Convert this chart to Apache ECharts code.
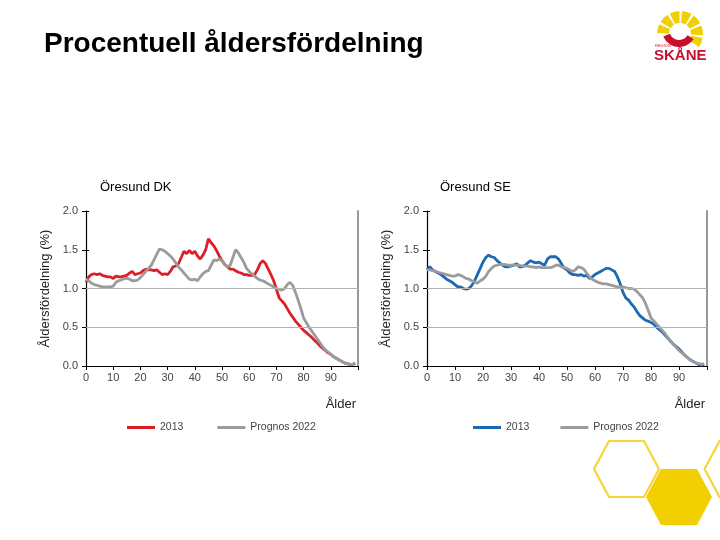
<!DOCTYPE html>
<html>
<head>
<meta charset="utf-8">
<script src="https://cdn.jsdelivr.net/npm/echarts@6/dist/echarts.min.js"></script>
<style>html,body{margin:0;padding:0;background:#fff}#c{width:720px;height:540px}</style>
</head>
<body>
<div id="c"></div>
<script>
const ages = Array.from({length: 100}, (_, i) => i);
const xTicks = [0, 10, 20, 30, 40, 50, 60, 70, 80, 90];
const yTicks = [0.0, 0.5, 1.0, 1.5, 2.0];
const gridLines = [0.5, 1.0];

const dk2013 = [1.08,1.15,1.18,1.19,1.18,1.19,1.17,1.16,1.15,1.15,
1.13,1.16,1.15,1.15,1.16,1.17,1.20,1.22,1.18,1.19,
1.20,1.23,1.25,1.24,1.24,1.23,1.24,1.21,1.18,1.19,
1.18,1.22,1.28,1.29,1.32,1.40,1.48,1.45,1.49,1.45,
1.48,1.42,1.38,1.43,1.50,1.64,1.59,1.55,1.49,1.42,
1.36,1.31,1.28,1.25,1.25,1.23,1.21,1.20,1.18,1.18,
1.17,1.17,1.18,1.24,1.32,1.36,1.32,1.25,1.18,1.10,
0.99,0.88,0.84,0.80,0.74,0.68,0.63,0.58,0.54,0.50,
0.46,0.43,0.40,0.37,0.33,0.30,0.26,0.23,0.20,0.17,
0.15,0.12,0.10,0.08,0.06,0.04,0.03,0.02,0.02,0.03];

const dk2022 = [1.12,1.10,1.07,1.05,1.04,1.03,1.02,1.02,1.02,1.02,
1.03,1.08,1.10,1.11,1.13,1.13,1.12,1.10,1.10,1.11,
1.14,1.18,1.22,1.26,1.30,1.37,1.44,1.51,1.50,1.48,
1.45,1.42,1.38,1.33,1.28,1.24,1.20,1.16,1.12,1.11,
1.12,1.10,1.15,1.19,1.22,1.23,1.30,1.37,1.36,1.38,
1.36,1.31,1.28,1.30,1.40,1.50,1.46,1.40,1.34,1.26,
1.22,1.19,1.16,1.13,1.11,1.10,1.08,1.06,1.04,1.02,
1.00,0.99,0.98,1.00,1.05,1.08,1.04,0.95,0.85,0.74,
0.62,0.56,0.50,0.45,0.40,0.35,0.30,0.25,0.21,0.18,
0.15,0.12,0.10,0.08,0.06,0.04,0.03,0.02,0.02,0.04];

const se2013 = [1.24,1.28,1.24,1.22,1.20,1.18,1.15,1.12,1.10,1.08,
1.05,1.02,1.02,1.00,0.99,1.00,1.04,1.10,1.18,1.26,
1.34,1.40,1.43,1.41,1.40,1.36,1.33,1.30,1.28,1.28,
1.29,1.30,1.32,1.28,1.28,1.30,1.33,1.36,1.34,1.33,
1.34,1.32,1.30,1.38,1.41,1.41,1.41,1.38,1.32,1.26,
1.24,1.20,1.18,1.18,1.17,1.18,1.16,1.17,1.13,1.15,
1.18,1.20,1.22,1.24,1.26,1.26,1.24,1.22,1.15,1.06,
0.95,0.88,0.85,0.80,0.76,0.70,0.65,0.62,0.59,0.58,
0.56,0.54,0.50,0.47,0.44,0.40,0.36,0.32,0.28,0.25,
0.22,0.18,0.14,0.11,0.08,0.06,0.04,0.02,0.01,0.02];

const se2022 = [1.24,1.24,1.23,1.22,1.21,1.20,1.19,1.18,1.17,1.16,
1.16,1.18,1.17,1.15,1.13,1.12,1.10,1.08,1.07,1.10,
1.12,1.16,1.22,1.26,1.29,1.30,1.31,1.31,1.31,1.30,
1.30,1.31,1.30,1.30,1.29,1.29,1.29,1.28,1.28,1.27,
1.28,1.27,1.27,1.27,1.27,1.28,1.30,1.30,1.28,1.27,
1.26,1.24,1.22,1.24,1.28,1.27,1.25,1.20,1.15,1.12,
1.10,1.08,1.07,1.06,1.06,1.05,1.04,1.03,1.02,1.02,
1.02,1.01,1.00,1.00,0.99,0.96,0.92,0.88,0.81,0.72,
0.62,0.58,0.54,0.50,0.46,0.42,0.37,0.32,0.28,0.24,
0.20,0.17,0.14,0.11,0.08,0.06,0.04,0.03,0.02,0.03];

const FONT = '"Liberation Sans", Arial, sans-serif';
const pairs = arr => ages.map((a, i) => [a, arr[i]]);

function xAx(gi) {
  return {
    type: 'value', gridIndex: gi, min: 0, max: 100, interval: 10,
    axisLine: {show: true, onZero: false, lineStyle: {color: '#000', width: 1.2}},
    axisTick: {show: true, length: 4, lineStyle: {color: '#000'}},
    axisLabel: {color: '#444', fontSize: 11, fontFamily: FONT, margin: 6,
      formatter: v => xTicks.indexOf(v) >= 0 ? String(v) : ''},
    splitLine: {show: false}
  };
}
function yAx(gi) {
  return {
    type: 'value', gridIndex: gi, min: 0, max: 2, interval: 0.5,
    name: 'Åldersfördelning (%)', nameLocation: 'middle', nameGap: 34,
    nameTextStyle: {color: '#222', fontSize: 13, fontFamily: FONT},
    axisLine: {show: true, lineStyle: {color: '#000', width: 1.2}},
    axisTick: {show: true, length: 4, lineStyle: {color: '#000'}},
    axisLabel: {color: '#444', fontSize: 11, fontFamily: FONT, margin: 8,
      formatter: v => yTicks.indexOf(v) >= 0 ? v.toFixed(1) : ''},
    splitLine: {show: false}
  };
}
function yAxInner(gi) {
  return {
    type: 'value', gridIndex: gi, min: 0, max: 2, interval: 0.5, position: 'left',
    axisLine: {show: false}, axisLabel: {show: false}, splitLine: {show: false},
    axisTick: {show: true, inside: true, length: 3, lineStyle: {color: '#000'}}
  };
}
function yAxRight(gi) {
  return {
    type: 'value', gridIndex: gi, min: 0, max: 2, position: 'right',
    axisLine: {show: true, lineStyle: {color: '#999', width: 2}},
    axisLabel: {show: false}, axisTick: {show: false}, splitLine: {show: false}
  };
}
const markGrid = {
  silent: true, symbol: 'none', label: {show: false},
  lineStyle: {color: '#b3b3b3', type: 'solid', width: 1},
  data: gridLines.map(v => ({yAxis: v}))
};
function lineSeries(name, arr, xi, yi, color, z, withGrid) {
  const s = {
    name, type: 'line', xAxisIndex: xi, yAxisIndex: yi, data: pairs(arr),
    showSymbol: false, symbol: 'none', smooth: false, z,
    lineStyle: {color, width: 2.8}, itemStyle: {color}, animation: false
  };
  if (withGrid) s.markLine = markGrid;
  return s;
}

const Y = '#F2CF00';
const hexPts = (cx, cy, hw, hh, inset) => [[cx - hw, cy], [cx - hw + inset, cy - hh], [cx + hw - inset, cy - hh], [cx + hw, cy], [cx + hw - inset, cy + hh], [cx - hw + inset, cy + hh]];

const logoRays = [];
const rayAngles = [[-3.10, -2.70], [-2.58, -2.15], [-2.03, -1.60], [-1.48, -1.05], [-0.93, -0.50], [-0.38, 0.05], [0.17, 0.60]];
rayAngles.forEach(a => logoRays.push({type: 'sector', shape: {cx: 680, cy: 34, r0: 11, r: 23, startAngle: a[0], endAngle: a[1]}, style: {fill: Y}}));

const chart = echarts.init(document.getElementById('c'), null, {renderer: 'canvas'});
chart.setOption({
  animation: false,
  backgroundColor: '#fff',
  title: [
    {text: 'Procentuell åldersfördelning', left: 39, top: 25, textStyle: {fontFamily: FONT, fontSize: 28, fontWeight: 'bold', color: '#000'}},
    {text: 'Öresund DK', left: 95, top: 176, textStyle: {fontFamily: FONT, fontSize: 13, fontWeight: 'normal', color: '#000'}},
    {text: 'Öresund SE', left: 435, top: 176, textStyle: {fontFamily: FONT, fontSize: 13, fontWeight: 'normal', color: '#000'}},
    {text: 'Ålder', right: 359, top: 393, textStyle: {fontFamily: FONT, fontSize: 13, fontWeight: 'normal', color: '#222'}},
    {text: 'Ålder', right: 10, top: 393, textStyle: {fontFamily: FONT, fontSize: 13, fontWeight: 'normal', color: '#222'}}
  ],
  grid: [
    {left: 86, right: 362, top: 211, bottom: 174, containLabel: false},
    {left: 427, right: 13, top: 211, bottom: 174, containLabel: false}
  ],
  xAxis: [xAx(0), xAx(1)],
  yAxis: [yAx(0), yAx(1), yAxInner(0), yAxInner(1), yAxRight(0), yAxRight(1)],
  legend: [
    {left: 122, top: 417, icon: 'rect', itemWidth: 28, itemHeight: 3, itemGap: 34,
      data: ['DK 2013', 'DK Prognos 2022'], formatter: n => n.slice(3),
      textStyle: {fontFamily: FONT, fontSize: 10.5, color: '#444'}},
    {left: 468, top: 417, icon: 'rect', itemWidth: 28, itemHeight: 3, itemGap: 31,
      data: ['SE 2013', 'SE Prognos 2022'], formatter: n => n.slice(3),
      textStyle: {fontFamily: FONT, fontSize: 10.5, color: '#444'}}
  ],
  series: [
    lineSeries('DK 2013', dk2013, 0, 0, '#DC1F26', 3, true),
    lineSeries('DK Prognos 2022', dk2022, 0, 0, '#9B9B9B', 4, false),
    lineSeries('SE 2013', se2013, 1, 1, '#1D68B3', 3, true),
    lineSeries('SE Prognos 2022', se2022, 1, 1, '#9B9B9B', 4, false)
  ],
  graphic: [
    {type: 'polygon', shape: {points: hexPts(626.5, 469, 32.5, 28, 15)}, style: {fill: 'none', stroke: '#F5D53A', lineWidth: 2.2}},
    {type: 'polygon', shape: {points: hexPts(679, 497, 33, 28, 15)}, style: {fill: Y}},
    {type: 'polygon', shape: {points: hexPts(737, 469, 32.5, 28, 15)}, style: {fill: 'none', stroke: '#F5D53A', lineWidth: 2.2}},
    ...logoRays,
    {type: 'sector', shape: {cx: 679, cy: 30, r0: 10, r: 17, startAngle: 0.55, endAngle: 2.75}, style: {fill: '#C8102E'}},
    {type: 'text', style: {text: 'REGION', x: 655, y: 44, fontSize: 4, fontFamily: FONT, fill: '#C8102E'}},
    {type: 'text', style: {text: 'SKÅNE', x: 654, y: 48, fontSize: 15, fontWeight: 'bold', fontFamily: FONT, fill: '#C8102E'}}
  ]
});
</script>
</body>
</html>
